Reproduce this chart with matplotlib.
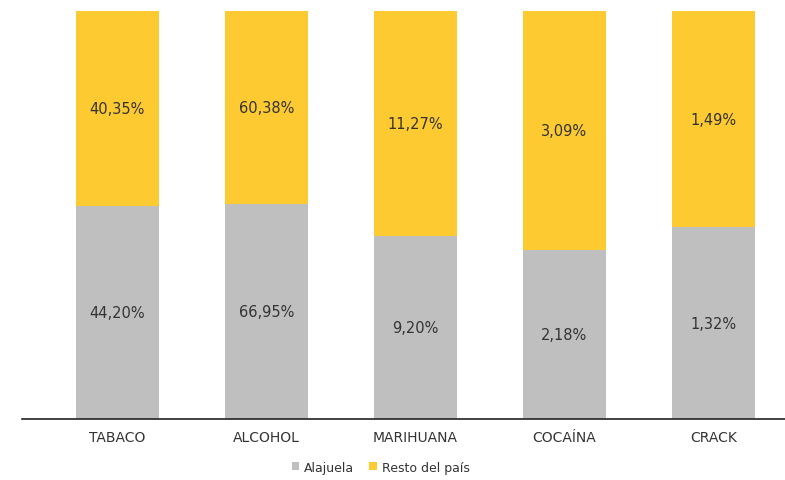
import numpy as np
import matplotlib.pyplot as plt

# Data
categorias = ['TABACO', 'ALCOHOL', 'MARIHUANA', 'COCAÍNA', 'CRACK']
alajuela = [44.20, 66.95, 9.20, 2.18, 1.32]
resto_pais = [40.35, 60.38, 11.27, 3.09, 1.49]

gris = '#bfbfbf'
amarillo = '#fdca32'
texto = '#333333'

a = np.array(alajuela)
r = np.array(resto_pais)
total = a + r
pa = a / total
pr = r / total
x = np.arange(len(categorias))

fig = plt.figure(figsize=(7.85, 4.81), dpi=100)
ax = fig.add_axes([0.028, 0.127, 0.972, 0.848])

ax.bar(x, pa, width=0.56, color=gris, label='Alajuela')
ax.bar(x, pr, width=0.56, bottom=pa, color=amarillo, label='Resto del país')

def fmt(v):
    return ('%.2f%%' % v).replace('.', ',')

for i in range(len(x)):
    ax.text(x[i], pa[i] / 2, fmt(alajuela[i]), ha='center', va='center',
            fontsize=10.5, color=texto)
    ax.text(x[i], pa[i] + pr[i] / 2, fmt(resto_pais[i]), ha='center', va='center',
            fontsize=10.5, color=texto)

ax.set_xlim(-0.64, 4.48)
ax.set_ylim(0, 1)
ax.set_xticks(x)
ax.set_xticklabels(categorias, fontsize=10, color=texto)
ax.tick_params(axis='x', length=0, pad=8)
ax.set_yticks([])
for s in ['top', 'right', 'left']:
    ax.spines[s].set_visible(False)
ax.spines['bottom'].set_color('#222222')
ax.spines['bottom'].set_linewidth(1.2)

ax.legend(loc='upper center', bbox_to_anchor=(0.47, -0.075), ncol=2, frameon=False,
          fontsize=9, handlelength=0.6, handleheight=0.6, handletextpad=0.4,
          columnspacing=1.2, labelcolor=texto)

plt.savefig('out.png', dpi=100)
